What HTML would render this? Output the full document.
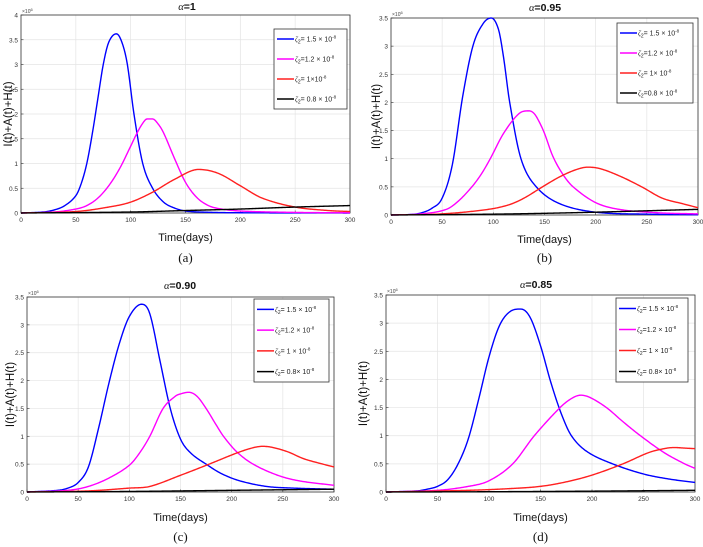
<!DOCTYPE html>
<html><head><meta charset="utf-8"><style>
html,body{margin:0;padding:0;background:#fff;}
svg{display:block;font-family:"Liberation Sans",Arial,sans-serif;}
</style></head><body>
<svg id="fig" width="703" height="547" viewBox="0 0 703 547"></svg>
<script>
// ---- data (values in units of 1e6) ----
const xTicks = [0,50,100,150,200,250,300];
const seriesColors = ["#0000ff","#ff00ff","#ff2020","#000000"];

// panel a (alpha = 1)
const aBlueDays = [0,20,30,40,50,55,60,65,70,75,80,87,92,97,103,111,120,130,140,150,170,200,300];
const aBlueVals = [0,0.02,0.06,0.15,0.35,0.6,1.0,1.6,2.3,3.0,3.45,3.62,3.45,3.0,2.0,1.0,0.5,0.22,0.1,0.04,0.015,0.005,0];
const aMagDays = [0,30,50,60,70,80,90,100,105,110,115,120,125,130,140,150,160,170,180,200,250,300];
const aMagVals = [0,0.02,0.08,0.15,0.3,0.55,0.9,1.35,1.58,1.78,1.9,1.9,1.8,1.62,1.1,0.62,0.32,0.16,0.09,0.04,0.012,0.005];
const aRedDays = [0,50,80,100,120,140,162,180,200,220,250,280,300];
const aRedVals = [0,0.03,0.12,0.22,0.42,0.68,0.88,0.8,0.55,0.3,0.12,0.05,0.03];
const aBlkDays = [0,100,150,200,250,300];
const aBlkVals = [0,0.02,0.05,0.08,0.12,0.15];

// panel b (alpha = 0.95)
const bBlueDays = [0,20,30,40,50,60,70,80,90,98,105,110,116,127,142,165,200,250,300];
const bBlueVals = [0,0.01,0.04,0.12,0.3,0.9,2.1,3.0,3.4,3.5,3.3,2.8,2.0,1.0,0.5,0.2,0.05,0.015,0.005];
const bMagDays = [0,30,54,66,79,88,97,110,125,135,140,145,150,158,168,178,200,223,260,300];
const bMagVals = [0,0.02,0.1,0.25,0.5,0.72,1.0,1.45,1.8,1.85,1.8,1.65,1.45,1.05,0.72,0.5,0.22,0.1,0.04,0.02];
const bRedDays = [0,50,95,115,130,148,165,180,192,205,225,245,265,285,300];
const bRedVals = [0,0.02,0.1,0.18,0.3,0.5,0.68,0.8,0.85,0.82,0.68,0.5,0.3,0.2,0.13];
const bBlkDays = [0,100,150,200,250,300];
const bBlkVals = [0,0.015,0.03,0.05,0.075,0.1];

// panel c (alpha = 0.90)
const cBlueDays = [0,30,40,50,60,70,80,90,100,112,120,130,140,150,160,175,190,208,234,260,300];
const cBlueVals = [0,0.03,0.07,0.17,0.45,1.15,1.95,2.65,3.15,3.37,3.2,2.35,1.5,0.95,0.7,0.5,0.33,0.2,0.1,0.07,0.05];
const cMagDays = [0,40,60,80,100,110,120,133,145,150,158,166,175,185,192,205,221,245,266,300];
const cMagVals = [0,0.03,0.1,0.25,0.48,0.7,1.0,1.5,1.72,1.76,1.79,1.72,1.5,1.2,1.0,0.72,0.5,0.3,0.2,0.12];
const cRedDays = [0,60,100,120,150,178,205,220,230,240,255,270,285,300];
const cRedVals = [0,0.02,0.07,0.1,0.3,0.5,0.7,0.79,0.82,0.8,0.72,0.6,0.52,0.45];
const cBlkDays = [0,100,200,300];
const cBlkVals = [0,0.01,0.03,0.05];

// panel d (alpha = 0.85)
const dBlueDays = [0,30,40,50,60,70,80,90,100,110,120,131,140,150,160,170,180,195,220,250,275,300];
const dBlueVals = [0,0.02,0.05,0.1,0.22,0.5,0.95,1.65,2.4,2.95,3.2,3.25,3.1,2.6,1.95,1.4,1.0,0.72,0.5,0.32,0.23,0.17];
const dMagDays = [0,50,80,100,123,144,169,180,189,198,214,230,247,270,290,300];
const dMagVals = [0,0.03,0.1,0.2,0.5,1.0,1.5,1.66,1.72,1.68,1.5,1.25,1.0,0.7,0.5,0.42];
const dRedDays = [0,80,120,150,175,200,230,255,270,280,290,300];
const dRedVals = [0,0.03,0.06,0.1,0.18,0.3,0.5,0.7,0.77,0.79,0.78,0.77];
const dBlkDays = [0,100,200,300];
const dBlkVals = [0,0.005,0.015,0.03];

const panels = [
 {key:"a", title:"=1", x0:21, x1:350, yTop:15, yBot:213, yMax:4, tx:187, ty:10, xl:237, cap:"(a)", capY:262, ylx:8,
  legend:{x:274,y:29,w:73,h:80},
  labels:[["= 1.5 × 10","-8"],["=1.2 × 10","-8"],["= 1×10","-8"],["= 0.8 × 10","-8"]],
  series:[[aBlueDays,aBlueVals],[aMagDays,aMagVals],[aRedDays,aRedVals],[aBlkDays,aBlkVals]]},
 {key:"b", title:"=0.95", x0:391, x1:698, yTop:18, yBot:215, yMax:3.5, tx:545, ty:11, xl:239, cap:"(b)", capY:262, ylx:376,
  legend:{x:617,y:23,w:76,h:80},
  labels:[["= 1.5 × 10","-8"],["=1.2 × 10","-8"],["= 1× 10","-8"],["=0.8 × 10","-8"]],
  series:[[bBlueDays,bBlueVals],[bMagDays,bMagVals],[bRedDays,bRedVals],[bBlkDays,bBlkVals]]},
 {key:"c", title:"=0.90", x0:27, x1:334, yTop:297, yBot:492, yMax:3.5, tx:180, ty:289, xl:517, cap:"(c)", capY:541, ylx:10,
  legend:{x:254,y:299,w:75,h:83},
  labels:[["= 1.5 × 10","-8"],["=1.2 × 10","-8"],["= 1 × 10","-8"],["= 0.8× 10","-8"]],
  series:[[cBlueDays,cBlueVals],[cMagDays,cMagVals],[cRedDays,cRedVals],[cBlkDays,cBlkVals]]},
 {key:"d", title:"=0.85", x0:386, x1:695, yTop:295, yBot:492, yMax:3.5, tx:536, ty:288, xl:517, cap:"(d)", capY:541, ylx:363,
  legend:{x:616,y:298,w:72,h:84},
  labels:[["= 1.5 × 10","-8"],["=1.2 × 10","-8"],["= 1 × 10","-8"],["= 0.8× 10","-8"]],
  series:[[dBlueDays,dBlueVals],[dMagDays,dMagVals],[dRedDays,dRedVals],[dBlkDays,dBlkVals]]}
];

const NS="http://www.w3.org/2000/svg";
const svg=document.getElementById("fig");
function mk(tag,attrs,parent,text){const e=document.createElementNS(NS,tag);for(const k in attrs)e.setAttribute(k,attrs[k]);if(text!==undefined)e.textContent=text;(parent||svg).appendChild(e);return e;}

function spline(xs,ys){
 const n=xs.length,m=new Array(n);
 m[0]=(ys[1]-ys[0])/(xs[1]-xs[0]);m[n-1]=(ys[n-1]-ys[n-2])/(xs[n-1]-xs[n-2]);
 for(let i=1;i<n-1;i++){
  const d0=(ys[i]-ys[i-1])/(xs[i]-xs[i-1]),d1=(ys[i+1]-ys[i])/(xs[i+1]-xs[i]);
  m[i]=(d0*d1<=0)?0:(ys[i+1]-ys[i-1])/(xs[i+1]-xs[i-1]);
 }
 return function(x){let i=0;while(i<n-2&&x>xs[i+1])i++;const h=xs[i+1]-xs[i],t=(x-xs[i])/h,t2=t*t,t3=t2*t;
  return (2*t3-3*t2+1)*ys[i]+(t3-2*t2+t)*h*m[i]+(-2*t3+3*t2)*ys[i+1]+(t3-t2)*h*m[i+1];};
}

panels.forEach(p=>{
 const g=mk("g",{});
 
 
 const X=v=>p.x0+(v/300)*(p.x1-p.x0);
 const Y=v=>p.yBot-(v/p.yMax)*(p.yBot-p.yTop);
 mk("rect",{x:p.x0,y:p.yTop,width:p.x1-p.x0,height:p.yBot-p.yTop,fill:"#fff"},g);
 xTicks.forEach(t=>{
  const gl=mk("line",{x1:X(t),x2:X(t),y1:p.yTop,y2:p.yBot,stroke:"#e4e4e4","stroke-width":0.7},g);
  
  
  const tl=mk("text",{x:X(t),y:p.yBot+9,"font-size":6.5,"text-anchor":"middle",fill:"#333"},g,String(t));
  
  
  mk("line",{x1:X(t),x2:X(t),y1:p.yBot,y2:p.yBot-2.5,stroke:"#333","stroke-width":0.6},g);
 });
 const yTicks=[];for(let v=0;v<=p.yMax+1e-9;v+=0.5)yTicks.push(+v.toFixed(1));
 yTicks.forEach(t=>{
  const gl=mk("line",{x1:p.x0,x2:p.x1,y1:Y(t),y2:Y(t),stroke:"#e4e4e4","stroke-width":0.7},g);
  
  
  const tl=mk("text",{x:p.x0-3,y:Y(t)+2.5,"font-size":6.5,"text-anchor":"end",fill:"#333"},g,String(t));
  
  
  mk("line",{x1:p.x0,x2:p.x0+2.5,y1:Y(t),y2:Y(t),stroke:"#333","stroke-width":0.6},g);
 });
 const ex=mk("text",{x:p.x0+1,y:p.yTop-2,"font-size":5,fill:"#444"},g,"×10");
 
 
 mk("tspan",{dy:-2,"font-size":4},ex,"6");
 const ab=mk("rect",{x:p.x0,y:p.yTop,width:p.x1-p.x0,height:p.yBot-p.yTop,fill:"none",stroke:"#333","stroke-width":0.8},g);
 
 
 const names=["zeta-1.5","zeta-1.2","zeta-1.0","zeta-0.8"];
 p.series.forEach((s,i)=>{
  const f=spline(s[0],s[1]);let d="";
  for(let x=0;x<=300;x+=1){d+=(x?"L":"M")+X(x).toFixed(2)+","+Y(Math.max(0,f(x))).toFixed(2);}
  const path=mk("path",{d:d,fill:"none",stroke:seriesColors[i],"stroke-width":1.4,"stroke-linejoin":"round"},g);
  
  
 });
 const tt=mk("text",{x:p.tx,y:p.ty,"font-size":10.5,"font-weight":"bold","text-anchor":"middle",fill:"#111"},g);
 
 
 mk("tspan",{"font-family":"Liberation Serif, serif","font-style":"italic","font-weight":"normal"},tt,"α");
 mk("tspan",{},tt,p.title);
 const xl=mk("text",{x:(p.x0+p.x1)/2,y:p.xl+4,"font-size":11,"text-anchor":"middle",fill:"#111"},g,"Time(days)");
 
 
 const yc=(p.yTop+p.yBot)/2;
 const yl=mk("text",{x:p.ylx,y:yc,"font-size":11.5,"text-anchor":"middle",fill:"#111",transform:`rotate(-90 ${p.ylx} ${yc})`,dy:4},g,"I(t)+A(t)+H(t)");
 
 
 const cp=mk("text",{x:(p.x0+p.x1)/2,y:p.capY,"font-size":13,"text-anchor":"middle","font-family":"Liberation Serif, serif",fill:"#111"},g,p.cap);
 
 
 const L=p.legend;
 const lg=mk("g",{},g);
 
 
 mk("rect",{x:L.x,y:L.y,width:L.w,height:L.h,fill:"#fff",stroke:"#333","stroke-width":0.8},lg);
 p.labels.forEach((lb,i)=>{
  const yy=L.y+L.h*(i+0.5)/4;
  const le=mk("g",{},lg);
  
  
  mk("line",{x1:L.x+3,x2:L.x+20,y1:yy,y2:yy,stroke:seriesColors[i],"stroke-width":1.4},le);
  const t=mk("text",{x:L.x+21,y:yy+2.5,"font-size":7,fill:"#222"},le);
  mk("tspan",{"font-family":"Liberation Serif, serif","font-style":"italic"},t,"ζ");
  mk("tspan",{"font-size":5,dy:2},t,"2");
  mk("tspan",{dy:-2},t,lb[0]);
  mk("tspan",{"font-size":4.5,dy:-3},t,lb[1]);
 });
});
</script>
</body></html>
